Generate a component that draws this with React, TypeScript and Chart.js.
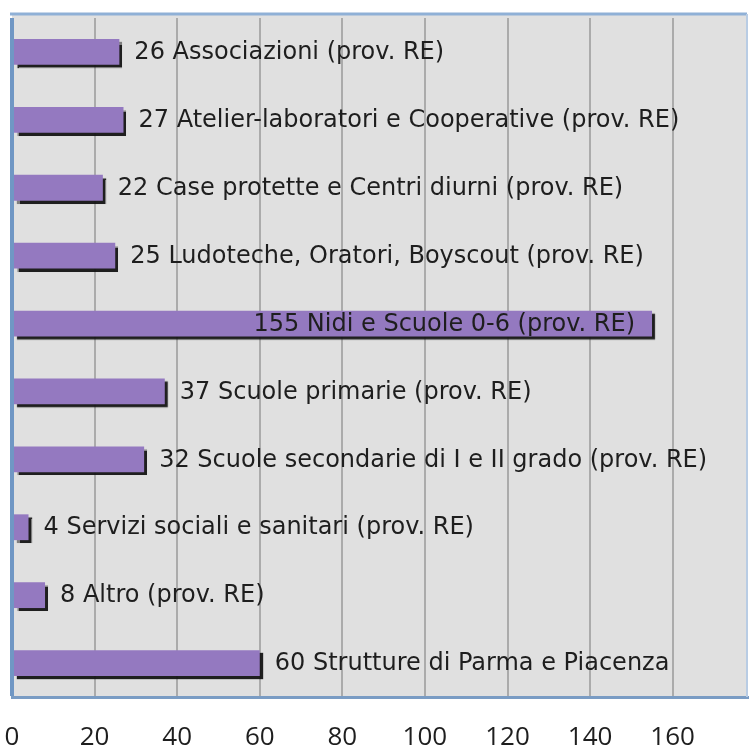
import { useEffect, useRef } from 'react';
import { Chart, registerables } from 'chart.js';

Chart.register(...registerables);

const categories = [
  'Associazioni (prov. RE)',
  'Atelier-laboratori e Cooperative (prov. RE)',
  'Case protette e Centri diurni (prov. RE)',
  'Ludoteche, Oratori, Boyscout (prov. RE)',
  'Nidi e Scuole 0-6 (prov. RE)',
  'Scuole primarie (prov. RE)',
  'Scuole secondarie di I e II grado (prov. RE)',
  'Servizi sociali e sanitari (prov. RE)',
  'Altro (prov. RE)',
  'Strutture di Parma e Piacenza',
];
const values = [26, 27, 22, 25, 155, 37, 32, 4, 8, 60];
const xTicks = [0, 20, 40, 60, 80, 100, 120, 140, 160];
const xMax = 178;

export default function App() {
  const ref = useRef<HTMLCanvasElement | null>(null);

  useEffect(() => {
    if (!ref.current) return;

    const bgPlugin = {
      id: 'bgPlugin',
      beforeDraw(chart: any) {
        const { ctx, chartArea } = chart;
        ctx.save();
        ctx.fillStyle = '#ffffff';
        ctx.fillRect(0, 0, chart.width, chart.height);
        ctx.fillStyle = '#e0e0e0';
        ctx.fillRect(chartArea.left, chartArea.top - 4, chartArea.right - chartArea.left, chartArea.bottom - chartArea.top + 4);
        ctx.restore();
      },
      afterDraw(chart: any) {
        const { ctx, chartArea } = chart;
        ctx.save();
        ctx.strokeStyle = '#8fb0d6';
        ctx.lineWidth = 3;
        ctx.beginPath();
        ctx.moveTo(chartArea.left - 2, chartArea.top - 4);
        ctx.lineTo(chartArea.right, chartArea.top - 4);
        ctx.stroke();
        ctx.strokeStyle = '#b8cce4';
        ctx.lineWidth = 2;
        ctx.beginPath();
        ctx.moveTo(chartArea.right, chartArea.top - 4);
        ctx.lineTo(chartArea.right, chartArea.bottom);
        ctx.stroke();
        ctx.restore();
      },
    };

    const shadowPlugin = {
      id: 'shadowPlugin',
      beforeDatasetDraw(chart: any) {
        const ctx = chart.ctx;
        ctx.save();
        ctx.shadowColor = 'rgba(20,20,20,0.95)';
        ctx.shadowOffsetX = 3;
        ctx.shadowOffsetY = 3;
        ctx.shadowBlur = 1;
      },
      afterDatasetDraw(chart: any) {
        chart.ctx.restore();
      },
    };

    const labelPlugin = {
      id: 'labelPlugin',
      afterDatasetsDraw(chart: any) {
        const { ctx } = chart;
        const meta = chart.getDatasetMeta(0);
        ctx.save();
        ctx.font = '24px "DejaVu Sans"';
        ctx.fillStyle = '#1e1e1e';
        ctx.textBaseline = 'middle';
        meta.data.forEach((bar: any, i: number) => {
          const text = values[i] + ' ' + categories[i];
          const w = ctx.measureText(text).width;
          if (bar.x + 15 + w > chart.chartArea.right) {
            ctx.textAlign = 'right';
            ctx.fillText(text, bar.x - 17, bar.y + 1);
          } else {
            ctx.textAlign = 'left';
            ctx.fillText(text, bar.x + 15, bar.y + 1);
          }
        });
        ctx.restore();
      },
    };

    const chart = new Chart(ref.current, {
      type: 'bar',
      data: {
        labels: categories,
        datasets: [
          {
            data: values,
            backgroundColor: '#9479c0',
            borderWidth: 0,
            barPercentage: 0.38,
            categoryPercentage: 1,
          },
        ],
      },
      options: {
        indexAxis: 'y',
        animation: false,
        responsive: false,
        maintainAspectRatio: false,
        layout: { padding: { left: 12, top: 18, right: 6, bottom: 0 } },
        plugins: { legend: { display: false }, tooltip: { enabled: false } },
        scales: {
          x: {
            min: 0,
            max: xMax,
            afterBuildTicks: (scale: any) => {
              scale.ticks = xTicks.map((v) => ({ value: v }));
            },
            afterFit: (scale: any) => {
              scale.height = 57;
              scale.paddingLeft = 0;
              scale.paddingRight = 0;
            },
            grid: {
              color: (c: any) => (c.tick && c.tick.value === 0 ? '#7097c4' : '#ababab'),
              lineWidth: (c: any) => (c.tick && c.tick.value === 0 ? 4 : 2),
              drawTicks: false,
            },
            border: { display: true, color: '#7a9cc4', width: 3 },
            ticks: {
              padding: 25,
              maxRotation: 0,
              autoSkip: false,
              color: '#1e1e1e',
              font: { family: '"Open Sans"', size: 26 },
            },
          },
          y: {
            display: false,
            grid: { display: false },
          },
        },
      },
      plugins: [bgPlugin, shadowPlugin, labelPlugin],
    });

    return () => chart.destroy();
  }, []);

  return (
    <div style={{ position: 'absolute', left: 0, top: 0, width: 753, height: 754 }}>
      <canvas ref={ref} width={753} height={754} style={{ width: 753, height: 754 }} />
    </div>
  );
}
